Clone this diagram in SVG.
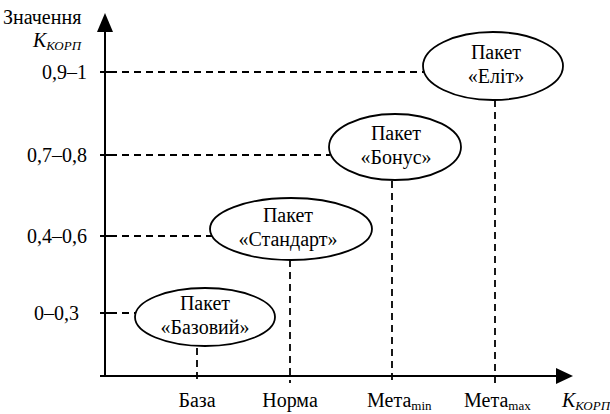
<svg xmlns="http://www.w3.org/2000/svg" width="610" height="414" viewBox="0 0 610 414" font-family="Liberation Serif, Times New Roman, serif" font-size="20">
<rect width="610" height="414" fill="#fff"/>
<g id="dashed-links" stroke="#000" stroke-width="1.8" stroke-dasharray="7,5" fill="none">
<line x1="110" y1="72" x2="424" y2="72"/>
<line x1="110" y1="155" x2="330" y2="155"/>
<line x1="110" y1="236" x2="212" y2="236"/>
<line x1="110" y1="313" x2="136" y2="313"/>
<line x1="197" y1="348" x2="197" y2="383"/>
<line x1="290" y1="260" x2="290" y2="383"/>
<line x1="392" y1="181" x2="392" y2="383"/>
<line x1="495" y1="100" x2="495" y2="383"/>
</g>
<g id="axis-lines" stroke="#000" stroke-width="2" fill="none">
<line x1="105" y1="30" x2="105" y2="377"/>
<line x1="100" y1="376" x2="558" y2="376"/>
<polygon points="105,13 97,32 113,32" fill="#000" stroke="none"/>
<polygon points="573,376 556,368 556,384" fill="#000" stroke="none"/>
<line x1="100" y1="72" x2="110" y2="72"/>
<line x1="100" y1="155" x2="110" y2="155"/>
<line x1="100" y1="236" x2="110" y2="236"/>
<line x1="100" y1="313" x2="110" y2="313"/>
</g>
<text x="3" y="24" font-family="Liberation Serif, serif" font-size="20">Значення</text>
<text x="33" y="47" font-family="Liberation Serif, serif" font-size="20" font-style="italic">K<tspan font-size="13" dy="3">КОРП</tspan></text>
<text x="87" y="79" text-anchor="end" font-family="Liberation Serif, serif" font-size="20">0,9–1</text>
<text x="87" y="162" text-anchor="end" font-family="Liberation Serif, serif" font-size="20">0,7–0,8</text>
<text x="87" y="243" text-anchor="end" font-family="Liberation Serif, serif" font-size="20">0,4–0,6</text>
<text x="79" y="320" text-anchor="end" font-family="Liberation Serif, serif" font-size="20">0–0,3</text>
<text x="197" y="407" text-anchor="middle" font-family="Liberation Serif, serif" font-size="20">База</text>
<text x="290" y="407" text-anchor="middle" font-family="Liberation Serif, serif" font-size="20">Норма</text>
<text x="367" y="407" font-family="Liberation Serif, serif" font-size="20">Мета<tspan font-size="13" dy="3">min</tspan></text>
<text x="464" y="407" font-family="Liberation Serif, serif" font-size="20">Мета<tspan font-size="13" dy="3">max</tspan></text>
<text x="562" y="407" font-family="Liberation Serif, serif" font-size="20" font-style="italic">K<tspan font-size="13" dy="3">КОРП</tspan></text>
<g id="pkg-base">
<ellipse cx="205" cy="317" rx="70" ry="29" fill="#fff" stroke="#000" stroke-width="1.8"/>
<text x="205" y="310" text-anchor="middle" font-family="Liberation Serif, serif" font-size="20">Пакет</text>
<text x="205" y="334" text-anchor="middle" font-family="Liberation Serif, serif" font-size="20">«Базовий»</text>
</g>
<g id="pkg-standard">
<ellipse cx="291" cy="229" rx="81" ry="31" fill="#fff" stroke="#000" stroke-width="1.8"/>
<text x="288" y="222" text-anchor="middle" font-family="Liberation Serif, serif" font-size="20">Пакет</text>
<text x="288" y="246" text-anchor="middle" font-family="Liberation Serif, serif" font-size="20">«Стандарт»</text>
</g>
<g id="pkg-bonus">
<ellipse cx="395" cy="147" rx="66" ry="33" fill="#fff" stroke="#000" stroke-width="1.8"/>
<text x="396" y="140" text-anchor="middle" font-family="Liberation Serif, serif" font-size="20">Пакет</text>
<text x="396" y="164" text-anchor="middle" font-family="Liberation Serif, serif" font-size="20">«Бонус»</text>
</g>
<g id="pkg-elite">
<ellipse cx="493" cy="66" rx="70" ry="34" fill="#fff" stroke="#000" stroke-width="1.8"/>
<text x="496" y="59" text-anchor="middle" font-family="Liberation Serif, serif" font-size="20">Пакет</text>
<text x="496" y="83" text-anchor="middle" font-family="Liberation Serif, serif" font-size="20">«Еліт»</text>
</g>
</svg>
